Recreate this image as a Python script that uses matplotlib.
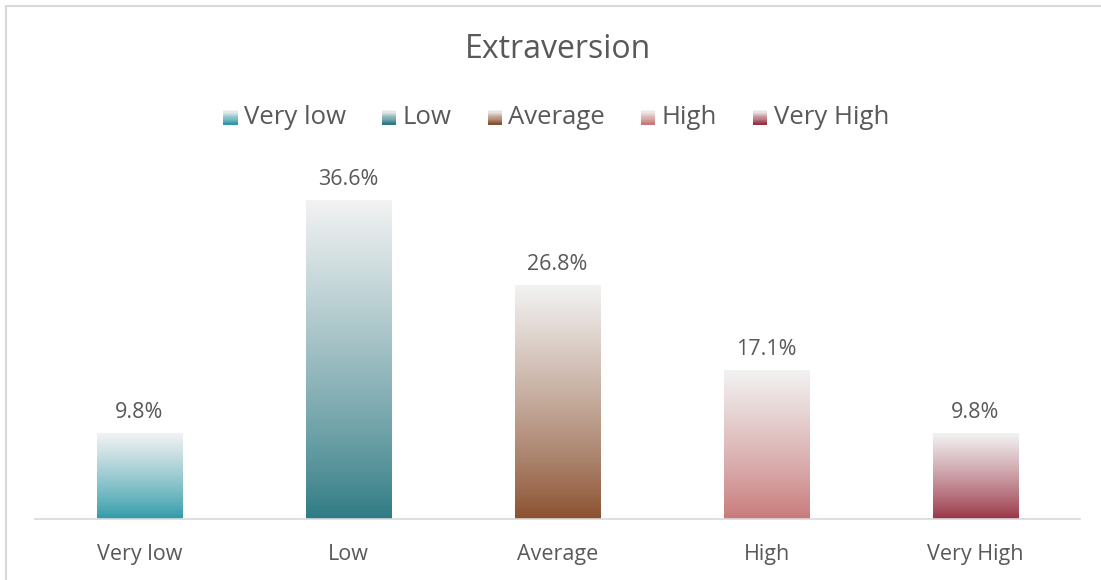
import numpy as np
import matplotlib.pyplot as plt
from matplotlib.colors import LinearSegmentedColormap
from matplotlib.legend_handler import HandlerBase
from matplotlib.patches import Rectangle

plt.rcParams['font.family'] = ['Open Sans', 'DejaVu Sans']

categories = ["Very low", "Low", "Average", "High", "Very High"]
values = [9.8, 36.6, 26.8, 17.1, 9.8]
labels = ["9.8%", "36.6%", "26.8%", "17.1%", "9.8%"]
colors = ["#2e9aa8", "#2e7a84", "#8a4f2e", "#c87878", "#993344"]
top_color = "#f2f2f2"
text_color = "#595959"


def gradient_cmap(c):
    # dark at the base, fading to light grey at the top
    return LinearSegmentedColormap.from_list("g", [c, top_color])


class GradientHandler(HandlerBase):
    def create_artists(self, legend, orig, xdescent, ydescent, width, height, fontsize, trans):
        n = 12
        side = height * 0.8
        x0 = width - side
        cm = gradient_cmap(orig.get_facecolor())
        arts = []
        for i in range(n):
            r = Rectangle((x0 - xdescent, -ydescent + i * side / n), side, side / n + 0.05,
                          facecolor=cm(i / (n - 1)), edgecolor="none", transform=trans)
            arts.append(r)
        return arts


fig = plt.figure(figsize=(11.01, 5.8), dpi=100)
ax = fig.add_axes([35 / 1101, 61 / 580, 1045 / 1101, 348 / 580])

x = np.arange(len(categories))
width = 0.41
grad = (np.linspace(0, 1, 256) ** 0.85).reshape(-1, 1)
for xi, v, c, lab in zip(x, values, colors, labels):
    ax.imshow(grad, cmap=gradient_cmap(c), origin="lower", aspect="auto",
              extent=[xi - width / 2, xi + width / 2, 0, v], zorder=2)
    ax.text(xi, v + 1.2, lab, ha="center", va="bottom", fontsize=15.5, color=text_color)

ax.set_xlim(-0.5, len(categories) - 0.5)
ax.set_ylim(0, 40)
ax.set_xticks(x)
ax.set_xticklabels(categories, fontsize=15.5, color=text_color)
ax.tick_params(axis="x", length=0, pad=18)
ax.set_yticks([])
for s in ["top", "right", "left"]:
    ax.spines[s].set_visible(False)
ax.spines["bottom"].set_color("#d9d9d9")
ax.spines["bottom"].set_linewidth(1.2)

handles = [Rectangle((0, 0), 1, 1, facecolor=c) for c in colors]
fig.legend(handles, categories, handler_map={Rectangle: GradientHandler()},
           loc="center", bbox_to_anchor=(555 / 1101, 1 - 118 / 580), ncol=5,
           frameon=False, fontsize=18.5, labelcolor=text_color,
           handlelength=0.65, handletextpad=0.25, columnspacing=1.3)

fig.text(558 / 1101, 1 - 50 / 580, "Extraversion", ha="center", va="center",
         fontsize=23, color=text_color)

# outer chart border
fig.add_artist(Rectangle((5.5 / 1101, -0.1), 1.2, 1 - 5.5 / 580 + 0.1, transform=fig.transFigure,
                         facecolor="none", edgecolor="#d9d9d9", linewidth=1.5))

fig.savefig("out.png", dpi=100)
